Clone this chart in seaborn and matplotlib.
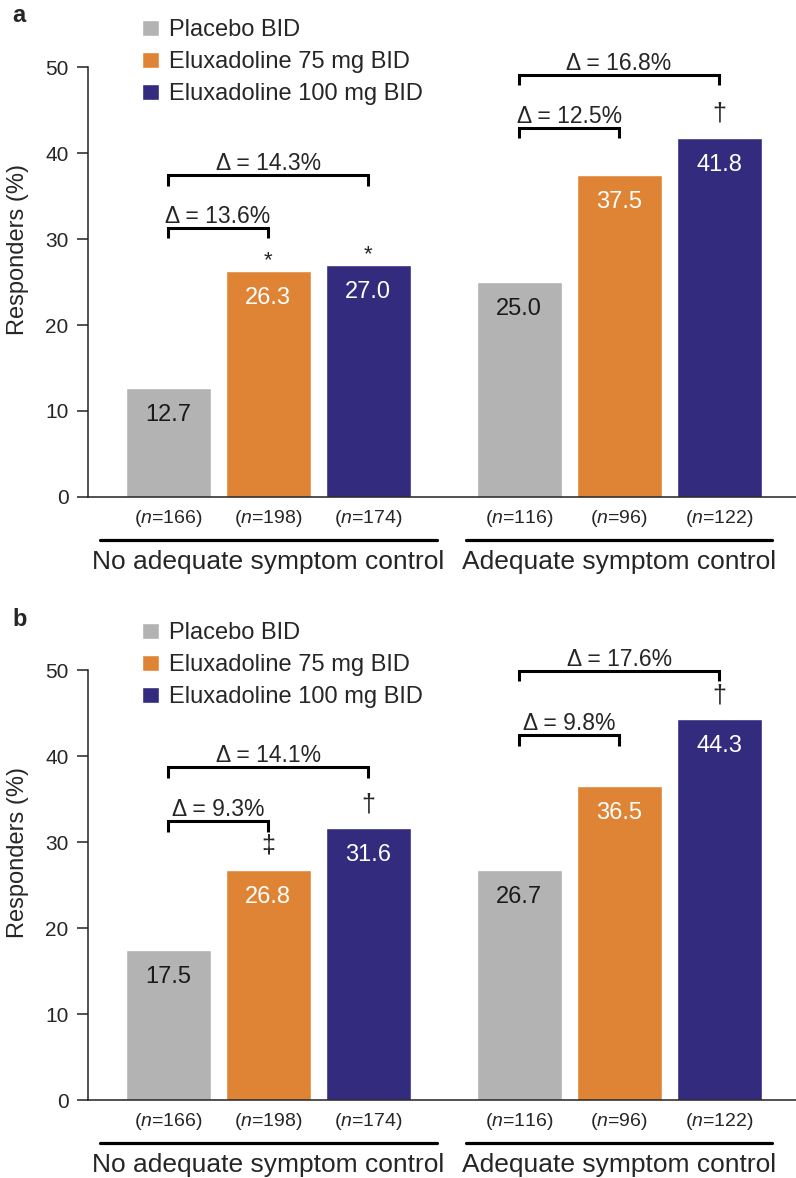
import seaborn as sns
import pandas as pd
import matplotlib.pyplot as plt

groups = ['No adequate symptom control', 'Adequate symptom control']
treatments = ['Placebo BID', 'Eluxadoline 75 mg BID', 'Eluxadoline 100 mg BID']
colors = ['#B3B3B3', '#DF8435', '#322B7E']
n_sizes = [[166, 198, 174], [116, 96, 122]]

# responders (%) per group, in treatment order
a_vals = [[12.7, 26.3, 27.0], [25.0, 37.5, 41.8]]
b_vals = [[17.5, 26.8, 31.6], [26.7, 36.5, 44.3]]

# brackets: group, from treatment, to treatment, height, text
a_brackets = [(0, 0, 2, 37.4, '\u0394 = 14.3%'), (0, 0, 1, 31.3, '\u0394 = 13.6%'),
              (1, 0, 2, 49.1, '\u0394 = 16.8%'), (1, 0, 1, 42.9, '\u0394 = 12.5%')]
b_brackets = [(0, 0, 2, 38.7, '\u0394 = 14.1%'), (0, 0, 1, 32.4, '\u0394 = 9.3%'),
              (1, 0, 2, 49.9, '\u0394 = 17.6%'), (1, 0, 1, 42.4, '\u0394 = 9.8%')]
# significance marks: group, treatment, symbol
a_marks = [(0, 1, '*'), (0, 2, '*'), (1, 2, '\u2020')]
b_marks = [(0, 1, '\u2021'), (0, 2, '\u2020'), (1, 2, '\u2020')]

sns.set_style('ticks')
plt.rcParams['font.family'] = ['Liberation Sans', 'DejaVu Sans']
plt.rcParams['mathtext.fontset'] = 'custom'
plt.rcParams['mathtext.rm'] = 'Liberation Sans'
plt.rcParams['mathtext.it'] = 'Liberation Sans:italic'

fig = plt.figure(figsize=(7.96, 11.78), dpi=100)
W, H = 796, 1178


def panel(ax, vals, brackets, marks):
    df = pd.DataFrame({
        'group': [g for g in groups for t in treatments],
        'treatment': [t for g in groups for t in treatments],
        'value': [v for row in vals for v in row],
    })
    sns.barplot(data=df, x='group', y='value', hue='treatment', order=groups,
                hue_order=treatments, palette=dict(zip(treatments, colors)),
                width=0.855, gap=0.15, saturation=1, errorbar=None, ax=ax)
    ax.set_xlim(-0.513, 1.504)
    ax.set_ylim(0, 57.5)
    sns.despine(ax=ax)
    ax.spines['left'].set_bounds(0, 50)
    for s in ('left', 'bottom'):
        ax.spines[s].set_linewidth(1.1)
        ax.spines[s].set_color('#222222')
    ax.set_yticks(range(0, 51, 10))
    ax.tick_params(axis='y', length=8, width=1.1, pad=6, labelsize=15, color='#222222')

    centers = [[c[g].get_x() + c[g].get_width() / 2 for g in range(2)] for c in ax.containers]
    xs = [centers[t][g] for g in range(2) for t in range(3)]
    ax.set_xticks(xs)
    ax.set_xticklabels([r'($\mathit{n}$=%d)' % n for row in n_sizes for n in row], fontsize=14)
    ax.tick_params(axis='x', length=0, pad=8)
    ax.set_xlabel('')
    ax.set_ylabel('Responders (%)', fontsize=17, labelpad=12)

    for t, c in enumerate(ax.containers):
        for g, bar in enumerate(c):
            ax.annotate(f'{vals[g][t]:.1f}', (centers[t][g], bar.get_height()),
                        xytext=(0, -19.5), textcoords='offset points', ha='center', va='center',
                        fontsize=17, color='#1a1a1a' if t == 0 else 'white')

    for g, t0, t1, y, txt in brackets:
        x0, x1 = centers[t0][g], centers[t1][g]
        ax.plot([x0, x0, x1, x1], [y - 1.2, y, y, y - 1.2], color='black', lw=2.2,
                solid_joinstyle='miter', solid_capstyle='butt')
        ax.annotate(txt, ((x0 + x1) / 2, y), xytext=(0, 3.5), textcoords='offset points',
                    ha='center', va='baseline', fontsize=16.5)

    for g, t, sym in marks:
        top = vals[g][t]
        if sym == '*':
            ax.annotate(sym, (centers[t][g], top), xytext=(0, 3), textcoords='offset points',
                        ha='center', va='baseline', fontsize=16)
        else:
            ax.annotate(sym, (centers[t][g], top), xytext=(0, 17), textcoords='offset points',
                        ha='center', va='center', fontsize=18)

    tr = ax.get_xaxis_transform()
    for g, (lo, hi) in enumerate([(-0.479, 0.481), (0.564, 1.436)]):
        ax.plot([lo, hi], [-0.087, -0.087], color='black', lw=2.3, transform=tr, clip_on=False)
        ax.text(g, -0.1314, groups[g], transform=tr, ha='center', va='center', fontsize=19)

    leg = ax.get_legend()
    handles = leg.legend_handles
    ax.legend(handles, treatments, loc='upper left', bbox_to_anchor=(0.0763, 0.966),
              frameon=False, fontsize=17, borderpad=0, borderaxespad=0,
              handlelength=0.7, handleheight=0.7, handletextpad=0.45, labelspacing=0.42)


ax_a = fig.add_axes([88 / W, (H - 497) / H, 708 / W, 494.5 / H])
ax_b = fig.add_axes([88 / W, (H - 1100) / H, 708 / W, 494.5 / H])
panel(ax_a, a_vals, a_brackets, a_marks)
panel(ax_b, b_vals, b_brackets, b_marks)

fig.text(12 / W, 1 - 15 / H, 'a', fontsize=17, fontweight='bold', va='center')
fig.text(12 / W, 1 - 620 / H, 'b', fontsize=17, fontweight='bold', va='center')

fig.savefig('out.png', dpi=100)
